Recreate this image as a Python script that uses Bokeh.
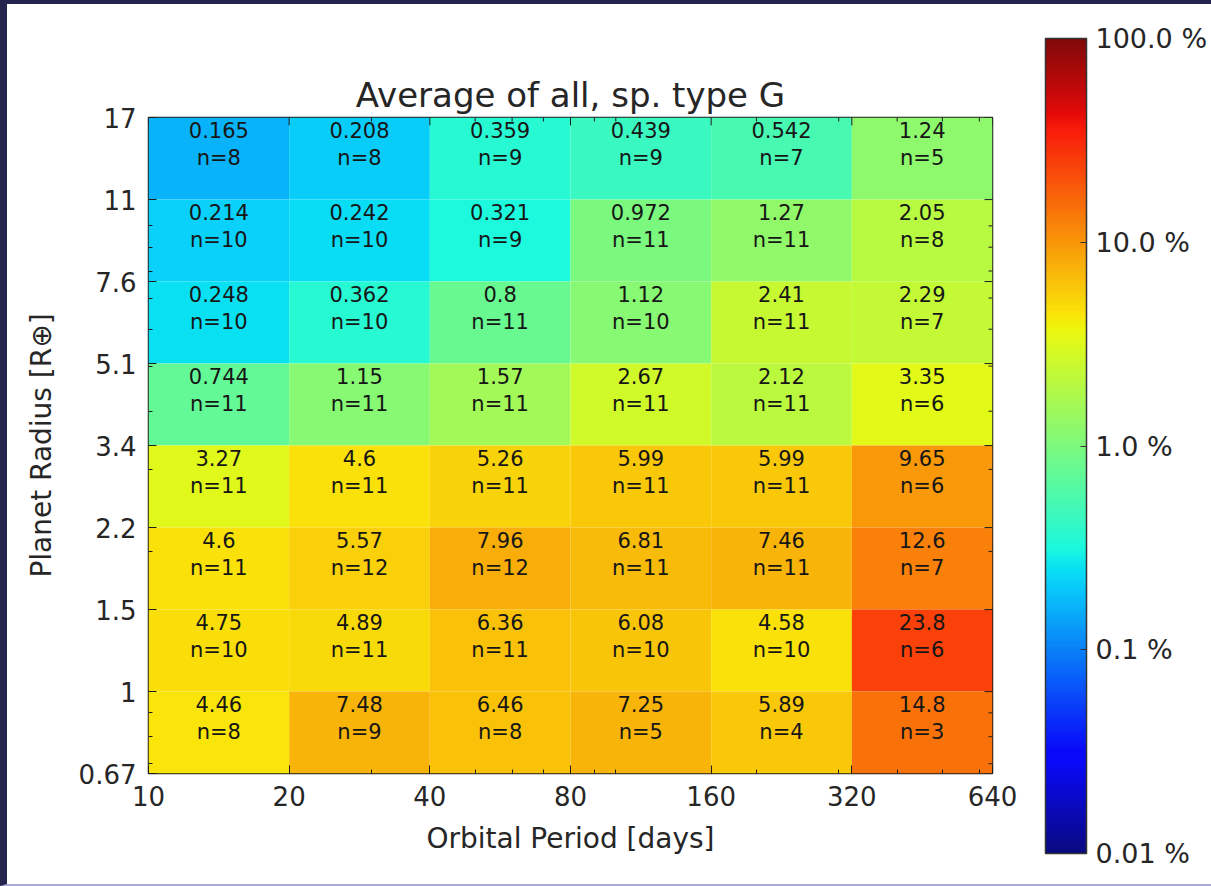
import numpy as np
from bokeh.plotting import figure
from bokeh.models import ColumnDataSource, LogColorMapper, FixedTicker, ColorBar
from bokeh.layouts import row
from bokeh.embed import file_html
from bokeh.resources import INLINE

# Bin edges
period_edges = [10, 20, 40, 80, 160, 320, 640]
radius_edges = [0.667, 1.0, 1.5, 2.25, 3.375, 5.0625, 7.594, 11.39, 17.09]
radius_tick_labels = ["0.67", "1", "1.5", "2.2", "3.4", "5.1", "7.6", "11", "17"]
period_tick_labels = ["10", "20", "40", "80", "160", "320", "640"]
period_minor = [30, 50, 60, 70, 90, 100, 200, 300, 400, 500, 600]
radius_minor = [0.7, 0.8, 0.9, 2, 3, 4, 5, 6, 7, 8, 9, 10]

# Occurrence rate [%] per cell, rows from the largest radius bin down
occurrence = [
    [0.165, 0.208, 0.359, 0.439, 0.542, 1.24],
    [0.214, 0.242, 0.321, 0.972, 1.27, 2.05],
    [0.248, 0.362, 0.8, 1.12, 2.41, 2.29],
    [0.744, 1.15, 1.57, 2.67, 2.12, 3.35],
    [3.27, 4.6, 5.26, 5.99, 5.99, 9.65],
    [4.6, 5.57, 7.96, 6.81, 7.46, 12.6],
    [4.75, 4.89, 6.36, 6.08, 4.58, 23.8],
    [4.46, 7.48, 6.46, 7.25, 5.89, 14.8],
]
# Number of stars/planets behind each cell
counts = [
    [8, 8, 9, 9, 7, 5],
    [10, 10, 9, 11, 11, 8],
    [10, 10, 11, 10, 11, 7],
    [11, 11, 11, 11, 11, 6],
    [11, 11, 11, 11, 11, 6],
    [11, 12, 12, 11, 11, 7],
    [10, 11, 11, 10, 10, 6],
    [8, 9, 8, 5, 4, 3],
]

cbar_ticks = [0.01, 0.1, 1.0, 10.0, 100.0]
cbar_tick_labels = ["0.01 %", "0.1 %", "1.0 %", "10.0 %", "100.0 %"]

FONT = "DejaVu Sans"
INK = "#262626"
TICK = "#1e1e1e"


def jet_palette(n=256, mix=0.94, grey=150):
    """Matplotlib-style jet, very slightly toned down."""
    x = np.linspace(0, 1, n)
    r = np.interp(x, [0, 0.35, 0.66, 0.89, 1], [0, 0, 1, 1, 0.5])
    g = np.interp(x, [0, 0.125, 0.375, 0.64, 0.91, 1], [0, 0, 1, 1, 0, 0])
    b = np.interp(x, [0, 0.11, 0.34, 0.65, 1], [0.5, 1, 1, 0, 0])
    out = []
    for rr, gg, bb in zip(r, g, b):
        c = [int(round(mix * v * 255 + (1 - mix) * grey)) for v in (rr, gg, bb)]
        out.append("#%02x%02x%02x" % tuple(c))
    return out


JET = jet_palette(256)
mapper = LogColorMapper(palette=JET, low=cbar_ticks[0], high=cbar_ticks[-1])

# Build the cell table
left, right, bottom, top, val, xc, yc, vtxt, ntxt = ([] for _ in range(9))
n_rows = len(occurrence)
for i, (vals, ns) in enumerate(zip(occurrence, counts)):
    k = n_rows - 1 - i
    y0, y1 = radius_edges[k], radius_edges[k + 1]
    for j, (v, n) in enumerate(zip(vals, ns)):
        x0, x1 = period_edges[j], period_edges[j + 1]
        left.append(x0); right.append(x1); bottom.append(y0); top.append(y1)
        val.append(v)
        xc.append(np.sqrt(x0 * x1)); yc.append(np.sqrt(y0 * y1))
        vtxt.append(format(v, ".3g")); ntxt.append("n=%d" % n)

src = ColumnDataSource(dict(left=left, right=right, bottom=bottom, top=top, val=val,
                            xc=xc, yc=yc, vtxt=vtxt, ntxt=ntxt))

p = figure(width=1204, height=880, x_axis_type="log", y_axis_type="log",
           x_range=(period_edges[0], period_edges[-1]),
           y_range=(radius_edges[0], radius_edges[-1]),
           output_backend="svg", toolbar_location=None,
           min_border_left=141, min_border_right=219,
           min_border_top=113, min_border_bottom=111,
           title="Average of all, sp. type G")
p.background_fill_color = "white"
p.border_fill_color = "white"
p.grid.visible = False
p.outline_line_color = TICK
p.outline_line_width = 1.5

p.title.align = "center"
p.title.text_font = FONT
p.title.text_font_size = "34px"
p.title.text_font_style = "normal"
p.title.text_color = INK
p.title.standoff = 6

p.quad(left="left", right="right", bottom="bottom", top="top", source=src,
       fill_color={"field": "val", "transform": mapper}, line_color=None)
p.text(x="xc", y="yc", text="vtxt", source=src, text_align="center",
       text_baseline="middle", y_offset=-29, text_font_size="21px",
       text_font={"value": FONT}, text_color="#161616")
p.text(x="xc", y="yc", text="ntxt", source=src, text_align="center",
       text_baseline="middle", y_offset=-1, text_font_size="21px",
       text_font={"value": FONT}, text_color="#161616")

# Mirrored inward ticks on the top and right edges (half of each dash is
# clipped away by the frame, leaving an inward tick)
y_top = radius_edges[-1]
x_right = period_edges[-1]
p.scatter(x=period_edges, y=[y_top] * len(period_edges), marker="dash", angle=np.pi / 2,
          size=16, line_color=TICK, line_width=1)
p.scatter(x=period_minor, y=[y_top] * len(period_minor), marker="dash", angle=np.pi / 2,
          size=8, line_color=TICK, line_width=1)
p.scatter(x=[x_right] * len(radius_edges), y=radius_edges, marker="dash",
          size=16, line_color=TICK, line_width=1)
p.scatter(x=[x_right] * len(radius_minor), y=radius_minor, marker="dash",
          size=8, line_color=TICK, line_width=1)


def style_axis(ax):
    ax.axis_line_color = None
    ax.major_tick_in = 8
    ax.major_tick_out = 0
    ax.minor_tick_in = 4
    ax.minor_tick_out = 0
    ax.major_tick_line_color = TICK
    ax.minor_tick_line_color = TICK
    ax.major_label_text_font = FONT
    ax.major_label_text_color = INK
    ax.major_label_text_font_size = "26px"
    ax.axis_label_text_font = FONT
    ax.axis_label_text_font_style = "normal"
    ax.axis_label_text_color = INK
    ax.axis_label_text_font_size = "28px"


xa = p.xaxis[0]
xa.ticker = FixedTicker(ticks=period_edges, minor_ticks=period_minor)
xa.major_label_overrides = {float(t): s for t, s in zip(period_edges, period_tick_labels)}
style_axis(xa)
xa.major_label_standoff = 12
xa.axis_label = "Orbital Period [days]"
xa.axis_label_standoff = 13

ya = p.yaxis[0]
ya.ticker = FixedTicker(ticks=radius_edges, minor_ticks=radius_minor)
ya.major_label_overrides = {float(t): s for t, s in zip(radius_edges, radius_tick_labels)}
style_axis(ya)
ya.major_label_standoff = 12
ya.axis_label = "Planet Radius [R\u2295]"
ya.axis_label_standoff = 18

# Colour bar to the right of the grid, taller than the plot frame
cbar = ColorBar(color_mapper=mapper, location=(897, -80), width=41, height=815,
                padding=0, margin=0,
                ticker=FixedTicker(ticks=cbar_ticks, minor_ticks=[]),
                major_label_overrides={float(t): s for t, s in zip(cbar_ticks, cbar_tick_labels)},
                major_label_text_font=FONT, major_label_text_font_size="27px",
                major_label_text_color=INK, label_standoff=9,
                major_tick_in=6, major_tick_out=0, major_tick_line_color="#333333",
                minor_tick_line_color=None,
                bar_line_color="#333333", bar_line_width=1.5,
                border_line_color=None, background_fill_color=None)
p.add_layout(cbar, "center")

page = row(p, styles={"border-top": "4px solid #24244f",
                      "border-left": "7px solid #24244f",
                      "border-bottom": "2px solid #a9a9d3",
                      "background-color": "white"})

open("out.html", "w").write(file_html(page, INLINE))
